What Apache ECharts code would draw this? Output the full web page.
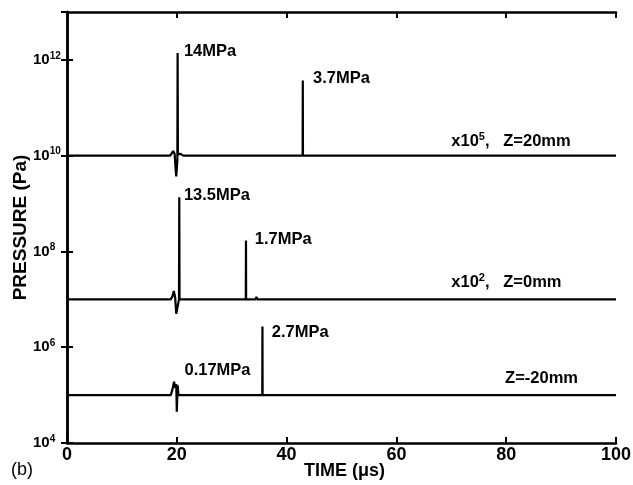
<!DOCTYPE html>
<html><head><meta charset="utf-8">
<script src="https://cdn.jsdelivr.net/npm/echarts@6/dist/echarts.min.js"></script>
<style>html,body{margin:0;padding:0;background:#fff}#c{width:633px;height:485px}</style>
</head><body><div id="c"></div>
<script>
// ---- data (time in microseconds, pressure in Pa, already scaled as plotted) ----
const xMin = 0, xMax = 100, xStep = 20;
const yMinExp = 4, yMaxExp = 13, yStepExp = 2;

// Z = 20 mm (x10^5)
const tZ20 = [0, 18.8, 19.1, 19.35, 19.6, 19.8, 19.9, 20.1, 20.15, 20.2, 20.6, 21.2, 42.92, 42.95, 42.98, 44.95, 45.1, 45.25, 100];
const pZ20 = [1e10, 1e10, 1.08e10, 1.25e10, 1.1e10, 5e9, 3.7e9, 8e9, 1.4e12, 1.05e10, 1.1e10, 1e10, 1e10, 3.7e11, 1e10, 1e10, 1.1e10, 1e10, 1e10];

// Z = 0 mm (x10^2)
const tZ0 = [0, 18.9, 19.2, 19.45, 19.7, 19.9, 20.05, 20.4, 20.45, 20.5, 21.1, 32.57, 32.6, 32.63, 34.35, 34.5, 34.65, 35.35, 35.5, 35.65, 100];
const pZ0 = [1e7, 1e7, 1.15e7, 1.5e7, 1.1e7, 5e6, 4.7e6, 1e7, 1.35e9, 1e7, 1e7, 1e7, 1.7e8, 1e7, 1e7, 1.12e7, 1e7, 1e7, 1.1e7, 1e7, 1e7];

// Z = -20 mm
const tZm20 = [0, 18.9, 19.2, 19.5, 19.75, 19.9, 20.0, 20.15, 20.3, 20.6, 35.57, 35.6, 35.63, 37.75, 37.9, 38.05, 39.95, 40.1, 40.25, 41.95, 42.1, 42.25, 100];
const pZm20 = [1e5, 1e5, 1.3e5, 1.9e5, 1.4e5, 1.7e5, 4.5e4, 1.6e5, 1.0e5, 1e5, 1e5, 2.7e6, 1e5, 1e5, 1.1e5, 1e5, 1e5, 1.1e5, 1e5, 1e5, 1.08e5, 1e5, 1e5];

// annotations: anchor (left edge / vertical centre of the text) in data coordinates
const annoT = [21.3, 44.8, 21.3, 34.2, 37.3, 21.4, 70.0, 70.0, 79.8];
const annoP = [1.5e12, 4.0e11, 1.5e9, 1.8e8, 2.0e6, 3.2e5, 2.0e10, 2.2e7, 2.2e5];
const annoText = ['14MPa', '3.7MPa', '13.5MPa', '1.7MPa', '2.7MPa', '0.17MPa',
  '{n|x10}{s|5}{n|,   Z=20mm}', '{n|x10}{s|2}{n|,   Z=0mm}', 'Z=-20mm'];

const xName = 'TIME (μs)';
const yName = 'PRESSURE (Pa)';
const panelTag = '(b)';

// ---- chart ----
const FONT = "'Liberation Sans', Arial, Helvetica, sans-serif";
const zip = (a, b) => a.map((v, i) => [v, b[i]]);
const lineSeries = (t, p) => ({
  type: 'line', data: zip(t, p), showSymbol: false, symbol: 'none',
  lineStyle: { color: '#000', width: 2.2 }, animation: false, silent: true
});

const chart = echarts.init(document.getElementById('c'), null, { renderer: 'canvas' });
const axisLineStyle = { show: true, lineStyle: { color: '#000', width: 2.5 } };
const tickStyle = { show: true, inside: true, length: 6, lineStyle: { color: '#000', width: 2 } };

chart.setOption({
  animation: false,
  backgroundColor: '#fff',
  grid: { left: 67, right: 17, top: 12, bottom: 42, containLabel: false, outerBoundsMode: 'none' },
  xAxis: [{
    type: 'value', min: xMin, max: xMax, interval: xStep, position: 'bottom',
    axisLine: axisLineStyle, axisTick: tickStyle, splitLine: { show: false },
    axisLabel: { color: '#000', fontFamily: FONT, fontWeight: 'bold', fontSize: 18, margin: 3 },
    name: xName, nameLocation: 'middle', nameGap: 19, nameMoveOverlap: false,
    nameTextStyle: { color: '#000', fontFamily: FONT, fontWeight: 'bold', fontSize: 18, padding: [0, 0, 0, 6] }
  }, {
    type: 'value', min: xMin, max: xMax, interval: xStep, position: 'top',
    axisLine: axisLineStyle, axisTick: tickStyle, splitLine: { show: false },
    axisLabel: { show: false }
  }],
  yAxis: [{
    type: 'log', logBase: 10, min: Math.pow(10, yMinExp), max: Math.pow(10, yMaxExp), interval: yStepExp,
    position: 'left',
    axisLine: axisLineStyle, axisTick: tickStyle, splitLine: { show: false }, minorTick: { show: false },
    axisLabel: {
      showMaxLabel: false, align: 'left', margin: 34, color: '#000',
      fontFamily: FONT, fontWeight: 'bold',
      formatter: v => '{b|10}{s|' + Math.round(Math.log10(v)) + '}',
      rich: {
        b: { fontFamily: FONT, fontWeight: 'bold', fontSize: 15, color: '#000', lineHeight: 18 },
        s: { fontFamily: FONT, fontWeight: 'bold', fontSize: 10, color: '#000', verticalAlign: 'top', lineHeight: 10 }
      }
    },
    name: yName, nameLocation: 'middle', nameGap: 37, nameRotate: 90, nameMoveOverlap: false,
    nameTextStyle: { color: '#000', fontFamily: FONT, fontWeight: 'bold', fontSize: 19 }
  }, {
    type: 'log', logBase: 10, min: Math.pow(10, yMinExp), max: Math.pow(10, yMaxExp), interval: yStepExp,
    position: 'right',
    axisLine: axisLineStyle, axisTick: tickStyle, splitLine: { show: false }, axisLabel: { show: false }
  }],
  series: [
    lineSeries(tZ20, pZ20),
    lineSeries(tZ0, pZ0),
    lineSeries(tZm20, pZm20),
    {
      type: 'scatter', symbolSize: 0, silent: true, animation: false,
      itemStyle: { opacity: 1 },
      data: annoT.map((t, i) => ({ value: [t, annoP[i]], txt: annoText[i] })),
      label: {
        show: true, position: 'right', distance: 0, color: '#000', opacity: 1,
        fontFamily: FONT, fontWeight: 'bold', fontSize: 16.5,
        formatter: p => p.data.txt,
        rich: {
          n: { fontFamily: FONT, fontWeight: 'bold', fontSize: 16.5, color: '#000', lineHeight: 20 },
          s: { fontFamily: FONT, fontWeight: 'bold', fontSize: 11, color: '#000', verticalAlign: 'top', lineHeight: 12 }
        }
      }
    }
  ],
  graphic: [{
    type: 'text', left: 11, top: 461,
    style: { text: panelTag, fontFamily: FONT, fontSize: 18, fill: '#000' }
  }]
});
</script>
</body></html>
